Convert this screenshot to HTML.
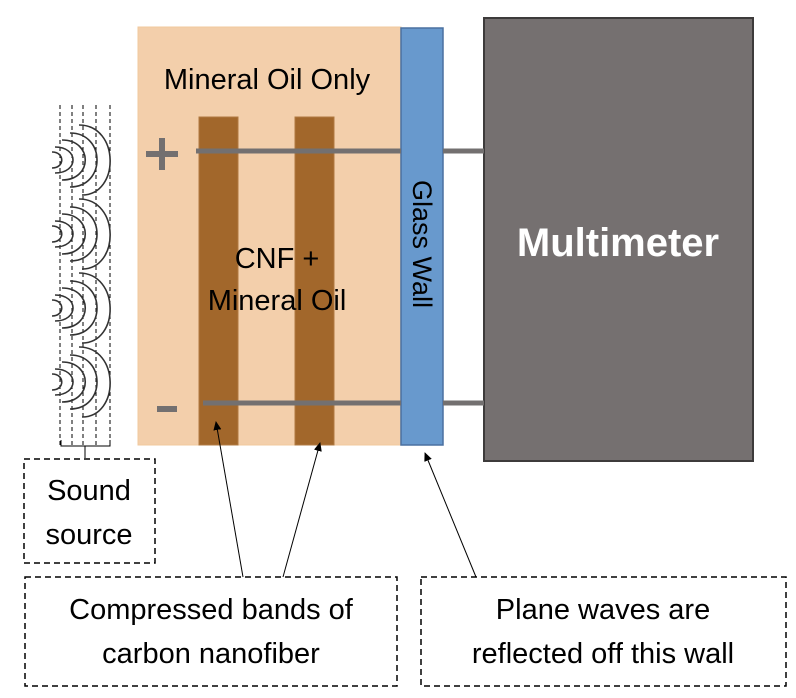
<!DOCTYPE html>
<html><head><meta charset="utf-8"><style>
body{margin:0;background:#fff;}
svg{display:block;font-family:"Liberation Sans",sans-serif;}
</style></head><body>
<svg width="796" height="698" viewBox="0 0 796 698" xmlns="http://www.w3.org/2000/svg">
<defs><marker id="a" markerWidth="10" markerHeight="10" refX="8" refY="5" orient="auto" markerUnits="userSpaceOnUse"><path d="M0,1 L9,5 L0,9 z" fill="#000"/></marker></defs>
<rect x="138" y="27" width="263" height="418" fill="#f3cfab" stroke="#f0c89e"/>
<rect x="199" y="117" width="39" height="328" fill="#a2672b" stroke="#b07a40"/>
<rect x="295" y="117" width="39" height="328" fill="#a2672b" stroke="#b07a40"/>
<rect x="401" y="28" width="42" height="417" fill="#6899cd" stroke="#4a70a0" stroke-width="1.5"/>
<rect x="484" y="18" width="269" height="443" fill="#757070" stroke="#3d3b3b" stroke-width="2"/>
<g stroke="#737070" stroke-width="5">
<line x1="196" y1="151" x2="401" y2="151"/><line x1="443" y1="151" x2="484" y2="151"/>
<line x1="203" y1="403" x2="401" y2="403"/><line x1="443" y1="403" x2="484" y2="403"/>
<line x1="146" y1="154" x2="178" y2="154" stroke-width="6"/><line x1="162" y1="138" x2="162" y2="170" stroke-width="6"/>
<line x1="157" y1="409" x2="177" y2="409" stroke-width="6"/>
</g>
<text x="267" y="89" font-size="29" text-anchor="middle">Mineral Oil Only</text>
<text x="277" y="268" font-size="29" text-anchor="middle">CNF +</text>
<text x="277" y="310" font-size="29" text-anchor="middle">Mineral Oil</text>
<text x="618" y="256" font-size="40" font-weight="bold" fill="#fff" text-anchor="middle">Multimeter</text>
<text transform="translate(413,244) rotate(90)" font-size="27" text-anchor="middle">Glass Wall</text>
<g stroke="#000" stroke-width="1" stroke-dasharray="4,3">
<line x1="60" y1="105" x2="60" y2="445"/><line x1="72" y1="105" x2="72" y2="445"/><line x1="83" y1="105" x2="83" y2="445"/><line x1="96" y1="105" x2="96" y2="445"/><line x1="110" y1="105" x2="110" y2="445"/>
</g>
<g fill="none" stroke="#333" stroke-width="1.6">
<g id="w">
<path d="M52,152 C65,152 65,168 52,168"/>
<path d="M55,147 C79,147 79,173 55,173"/>
<path d="M62,140 C93,140 93,180 62,180"/>
<path d="M70,133 C106,133 106,187 70,187"/>
<path d="M79,125 C120,125 120,195 82,195"/>
</g>
<use href="#w" y="74"/><use href="#w" y="148"/><use href="#w" y="222"/>
</g>
<path d="M61,440 v6 h49 v-6 M85,446 v12" fill="none" stroke="#000" stroke-width="1"/>
<g fill="none" stroke="#000" stroke-width="1.5" stroke-dasharray="6,4">
<rect x="24" y="459" width="131" height="104"/>
<rect x="25" y="577" width="372" height="109"/>
<rect x="421" y="577" width="365" height="109"/>
</g>
<g stroke="#000" stroke-width="1" marker-end="url(#a)">
<line x1="243" y1="577" x2="216" y2="422"/>
<line x1="283" y1="577" x2="320" y2="443"/>
<line x1="476" y1="577" x2="425" y2="453"/>
</g>
<g font-size="29" text-anchor="middle">
<text x="89" y="500">Sound</text><text x="89" y="544">source</text>
<text x="211" y="619">Compressed bands of</text><text x="211" y="663">carbon nanofiber</text>
<text x="603" y="619">Plane waves are</text><text x="603" y="663">reflected off this wall</text>
</g>
</svg>
</body></html>
